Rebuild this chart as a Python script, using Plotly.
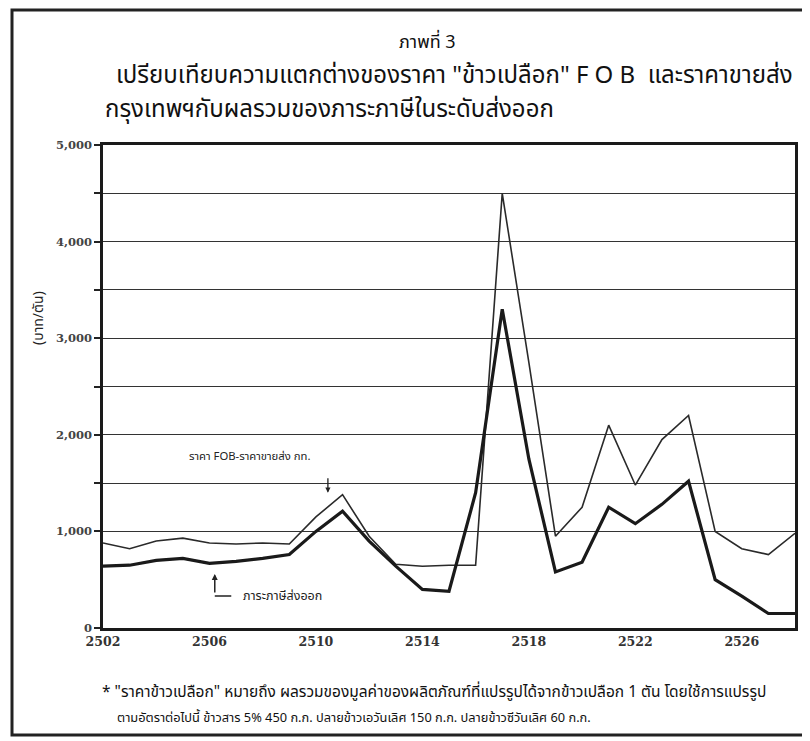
import plotly.graph_objects as go

years = list(range(2502, 2529))
fob_minus_wholesale = [880, 820, 900, 930, 880, 870, 880, 870, 1150, 1380, 950, 660, 640, 650, 650,
                       4500, 2750, 950, 1250, 2100, 1480, 1950, 2200, 1000, 820, 760, 980]
export_tax_burden = [640, 650, 700, 720, 670, 690, 720, 760, 1000, 1210, 900, 640, 400, 380, 1400,
                     3300, 1750, 580, 680, 1250, 1080, 1280, 1520, 500, 330, 150, 150]

xtick_vals = [2502, 2506, 2510, 2514, 2518, 2522, 2526]
ytick_vals = [0, 1000, 1500, 2000, 2500, 3000, 3500, 4000, 4500, 5000]
ytick_text = ["0", "1,000", "", "2,000", "", "3,000", "", "4,000", "", "5,000"]

title_1 = "ภาพที่ 3"
title_2 = "เปรียบเทียบความแตกต่างของราคา \"ข้าวเปลือก\" F O B  และราคาขายส่ง"
title_3 = "กรุงเทพฯกับผลรวมของภาระภาษีในระดับส่งออก"
y_title = "(บาท/ตัน)"
label_fob = "ราคา FOB-ราคาขายส่ง กท."
label_tax = "ภาระภาษีส่งออก"
note_1 = "* \"ราคาข้าวเปลือก\" หมายถึง ผลรวมของมูลค่าของผลิตภัณฑ์ที่แปรรูปได้จากข้าวเปลือก 1 ตัน โดยใช้การแปรรูป"
note_2 = "ตามอัตราต่อไปนี้ ข้าวสาร 5% 450 ก.ก. ปลายข้าวเอวันเลิศ 150 ก.ก. ปลายข้าวซีวันเลิศ 60 ก.ก."

THAI = "Noto Sans Thai, Loma, Garuda, Tlwg Typo, Noto Sans, DejaVu Sans, sans-serif"
SERIF = "DejaVu Serif, Liberation Serif, serif"
INK = "#2a2a2a"

fig = go.Figure()
fig.add_trace(go.Scatter(x=years, y=fob_minus_wholesale, mode="lines",
                         line=dict(color=INK, width=1.6), name=label_fob, showlegend=False))
fig.add_trace(go.Scatter(x=years, y=export_tax_burden, mode="lines",
                         line=dict(color="#1a1a1a", width=3.2), name=label_tax, showlegend=False))

OFF = 8  # page body margin
W, H = 810 - OFF, 741 - OFF
# target page pixels of plot area
PL, PR, PT, PB = 103, 795, 145, 628
L, T = PL - OFF, PT - OFF
R = (OFF + W) - PR
B = (OFF + H) - PB
pw, ph = PR - PL, PB - PT


def px(xp):
    return (xp - PL) / pw


def py(yp):
    return (PB - yp) / ph


ann = []
ann.append(dict(text=title_1, x=px(427), y=py(42), xref="paper", yref="paper", showarrow=False,
                font=dict(family=THAI, size=18, color="#111"), xanchor="center", yanchor="middle"))
ann.append(dict(text=title_2, x=px(795), y=py(76), xref="paper", yref="paper", showarrow=False,
                font=dict(family=THAI, size=24, color="#111"), xanchor="right", yanchor="middle"))
ann.append(dict(text=title_3, x=px(103), y=py(110), xref="paper", yref="paper", showarrow=False,
                font=dict(family=THAI, size=24, color="#111"), xanchor="left", yanchor="middle"))
ann.append(dict(text=y_title, x=px(38), y=py(318), xref="paper", yref="paper", showarrow=False,
                textangle=-90, font=dict(family=THAI, size=14, color="#222"),
                xanchor="center", yanchor="middle"))
ann.append(dict(text=note_1, x=px(100), y=py(692), xref="paper", yref="paper", showarrow=False,
                font=dict(family=THAI, size=15.5, color="#111"), xanchor="left", yanchor="middle"))
ann.append(dict(text=note_2, x=px(115), y=py(718), xref="paper", yref="paper", showarrow=False,
                font=dict(family=THAI, size=12.8, color="#111"), xanchor="left", yanchor="middle"))
# in-plot labels
ann.append(dict(text=label_fob, x=2507.5, y=1780, showarrow=False,
                font=dict(family=THAI, size=11.3, color="#222"), xanchor="center", yanchor="middle"))
ann.append(dict(text="", x=2510.45, y=1400, ax=0, ay=-16, showarrow=True, arrowhead=2,
                arrowsize=0.8, arrowwidth=1.3, arrowcolor="#222"))
ann.append(dict(text=label_tax, x=2507.2, y=330, showarrow=False,
                font=dict(family=THAI, size=12.5, color="#222"), xanchor="left", yanchor="middle"))
ann.append(dict(text="", x=2506.2, y=560, ax=0, ay=20, showarrow=True, arrowhead=2,
                arrowsize=0.8, arrowwidth=1.5, arrowcolor="#222"))
ann.append(dict(text="", x=2506.2, y=330, ax=18, ay=0, showarrow=True, arrowhead=0,
                arrowwidth=1.5, arrowcolor="#222", standoff=0, startstandoff=0))

fig.update_layout(
    width=W, height=H,
    margin=dict(l=L, r=R, t=T, b=B),
    paper_bgcolor="white", plot_bgcolor="white",
    annotations=ann,
    shapes=[dict(type="rect", xref="paper", yref="paper", x0=px(12), x1=px(805),
                 y0=py(735), y1=py(10), line=dict(color="#222", width=3))],
    font=dict(family=SERIF, color="#222"),
)
fig.update_xaxes(range=[2502, 2528], tickvals=xtick_vals, showgrid=False, zeroline=False,
                 showline=True, linecolor="#1a1a1a", linewidth=2.5, mirror=True, ticks="",
                 tickfont=dict(family=SERIF, size=12.5, color="#333", weight="bold"))
fig.update_yaxes(range=[0, 5000], tickvals=ytick_vals, ticktext=ytick_text, showgrid=True,
                 gridcolor="#333", gridwidth=1.2, zeroline=False, showline=True,
                 linecolor="#1a1a1a", linewidth=2.5, mirror=True, ticks="outside", ticklen=6,
                 tickcolor="#222", tickwidth=1.5,
                 tickfont=dict(family=SERIF, size=11.5, color="#444", weight="bold"))

fig.write_html("out.html")
